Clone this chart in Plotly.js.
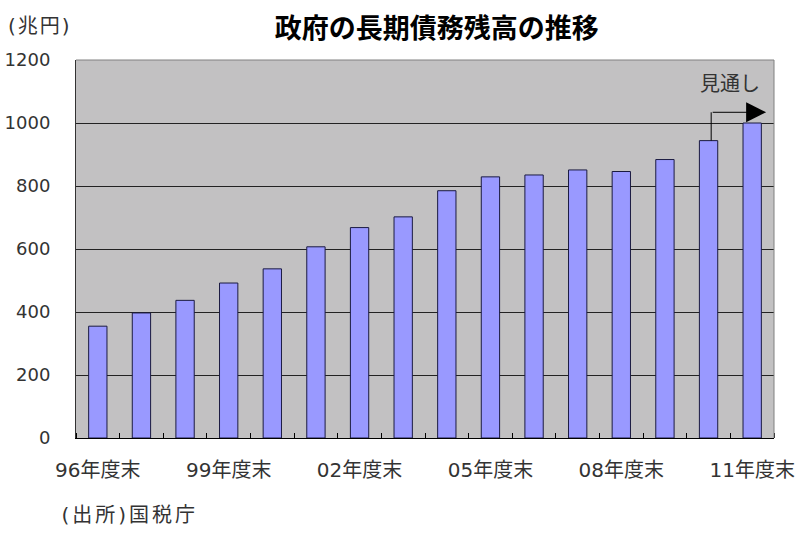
<!DOCTYPE html>
<html>
<head>
<meta charset="utf-8">
<script src="https://cdn.plot.ly/plotly-3.0.1.min.js"></script>
<style>
html,body{margin:0;padding:0;background:#fff;}
#chart{width:800px;height:536px;}
</style>
</head>
<body>
<div id="chart"></div>
<script>
const categories = ["96年度末","97年度末","98年度末","99年度末","00年度末","01年度末","02年度末","03年度末","04年度末","05年度末","06年度末","07年度末","08年度末","09年度末","10年度末","11年度末"];
const debtValues = [355, 397, 437, 492, 537, 607, 668, 702, 785, 829, 835, 851, 846, 884, 944, 1000];
const yTicks = [0, 200, 400, 600, 800, 1000, 1200];
const xLabelIndex = [0, 3, 6, 9, 12, 15];
const forecastFrom = 14;
const forecastArrowY = 1034;
const forecastLabel = "見通し";
const unitLabel = "(兆円)";
const sourceLabel = "(出所)国税庁";

const xIdx = categories.map((c, i) => i);
const font = "'DejaVu Sans', 'Noto Sans CJK JP', sans-serif";
const cjk = "'Noto Sans CJK JP', 'Noto Sans', sans-serif";

const trace = {
  type: 'bar',
  x: xIdx,
  y: debtValues,
  hovertext: categories,
  hoverinfo: 'text+y',
  textposition: 'none',
  marker: {color: '#9999FF', line: {color: '#1a1a40', width: 1}},
  width: 0.42
};

const layout = {
  width: 800, height: 536,
  margin: {l: 76, r: 26, t: 60, b: 98},
  paper_bgcolor: '#ffffff',
  plot_bgcolor: '#c2c1c2',
  showlegend: false,
  font: {family: font, color: '#333', size: 16},
  title: {text: '政府の長期債務残高の推移', x: 0.546, xanchor: 'center', y: 0.947, yanchor: 'middle',
          font: {family: cjk, size: 27, color: '#000', weight: 'bold'}},
  xaxis: {
    range: [-0.5, 15.5],
    tickmode: 'array',
    tickvals: xLabelIndex,
    ticktext: xLabelIndex.map(i => categories[i]),
    ticks: '',
    minor: {tick0: 0.5, dtick: 1, ticks: 'inside', ticklen: 5, tickcolor: '#000', tickwidth: 1, showgrid: false},
    showgrid: false,
    zeroline: false,
    showline: true, linecolor: '#000', linewidth: 1,
    ticklabelstandoff: 14,
    tickfont: {family: font, size: 20, color: '#333'},
    fixedrange: true
  },
  yaxis: {
    range: [0, 1200],
    tickmode: 'array',
    tickvals: yTicks,
    ticks: '',
    showgrid: true, gridcolor: '#222', gridwidth: 1,
    zeroline: false,
    showline: true, linecolor: '#333', linewidth: 1,
    ticklabelstandoff: 21,
    tickfont: {family: font, size: 18, color: '#333'},
    fixedrange: true
  },
  shapes: [
    {type: 'line', xref: 'paper', yref: 'paper', x0: 1, x1: 1, y0: 0, y1: 1, line: {color: '#808080', width: 1}},
    {type: 'line', xref: 'paper', yref: 'paper', x0: 0, x1: 1, y0: 1, y1: 1, line: {color: '#808080', width: 1}},
    {type: 'line', xref: 'x', yref: 'y', x0: forecastFrom + 0.06, x1: forecastFrom + 0.06,
     y0: debtValues[forecastFrom], y1: forecastArrowY, line: {color: '#000', width: 1}}
  ],
  annotations: [
    {xref: 'x', yref: 'y', x: forecastFrom + 1.32, y: forecastArrowY, ax: forecastFrom + 0.06, ay: forecastArrowY,
     axref: 'x', ayref: 'y', text: '', showarrow: true, arrowhead: 2, arrowsize: 4, arrowwidth: 1, arrowcolor: '#000'},
    {xref: 'x', yref: 'y', x: forecastFrom + 0.5, y: 1128, text: forecastLabel, showarrow: false,
     font: {family: cjk, size: 20, color: '#333'}},
    {xref: 'paper', yref: 'paper', x: -0.094, y: 1.09, xanchor: 'left', yanchor: 'middle', text: unitLabel, showarrow: false,
     font: {family: font, size: 20, color: '#333'}},
    {xref: 'paper', yref: 'paper', x: -0.008, y: -0.203, xanchor: 'left', yanchor: 'middle', text: sourceLabel, showarrow: false,
     font: {family: font, size: 20, color: '#333'}}
  ]
};

Plotly.newPlot('chart', [trace], layout, {staticPlot: true, displayModeBar: false}).then(gd => {
  const anns = gd.querySelectorAll('.annotation');
  anns.forEach(a => {
    const t = a.querySelector('text');
    if (!t) return;
    if (t.textContent === sourceLabel) t.style.letterSpacing = '3px';
    if (t.textContent === unitLabel) t.style.letterSpacing = '2px';
  });
});
</script>
</body>
</html>
